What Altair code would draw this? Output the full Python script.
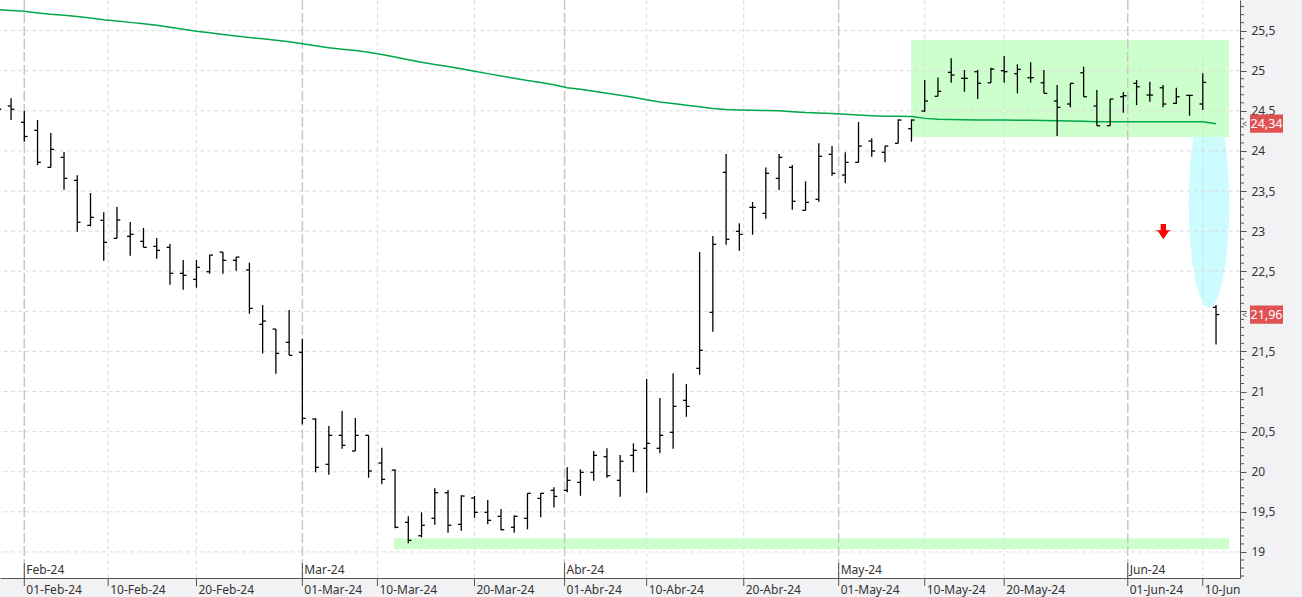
import altair as alt
import pandas as pd

# ---------------- data ----------------
first_day = "2024-01-30"
last_day = "2024-06-11"
holidays = ["2024-03-29", "2024-04-01", "2024-05-01"]

opens = [24.60, 24.56, 24.357, 24.257, 23.795, 23.92, 23.633, 23.072, 23.135, 22.91,
         22.935, 22.873, 22.81, 22.798, 22.474, 22.399, 22.494, 22.739, 22.636, 22.515,
         21.838, 21.779, 21.613, 21.489, 20.657, 20.092, 20.454, 20.258, 20.454, 20.108,
         20.02, 19.369, 19.202, 19.419, 19.738, 19.344, 19.672, 19.494, 19.444, 19.307,
         19.419, 19.668, 19.768, 19.768, 19.868, 19.993, 20.187, 19.893, 20.204, 20.292,
         20.292, 20.491, 20.89, 21.289, 21.987, 23.733, 22.998, 23.297, 23.222, 23.658,
         23.795, 23.259, 23.397, 23.958, 23.70, 23.858, 24.123, 23.983, 24.095, 24.277,
         24.498, 24.681, 24.98, 24.905, 24.988, 24.85, 25.0, 24.963, 24.913, 24.85,
         24.622, 24.585, 24.975, 24.56, 24.314, 24.676, 24.843, 24.697, 24.788, 24.593,
         24.693, 24.585, 22.05]
highs = [24.70, 24.656, 24.497, 24.385, 24.223, 23.986, 23.696, 23.475, 23.234, 23.30,
         23.113, 23.039, 22.914, 22.84, 22.64, 22.64, 22.702, 22.739, 22.677, 22.606,
         22.079, 21.779, 22.016, 21.655, 20.666, 20.57, 20.757, 20.669, 20.454, 20.299,
         20.03, 19.444, 19.494, 19.793, 19.772, 19.706, 19.697, 19.647, 19.536, 19.456,
         19.731, 19.731, 19.806, 20.055, 20.03, 20.258, 20.292, 20.208, 20.354, 21.156,
         20.919, 21.227, 21.094, 22.739, 22.939, 23.961, 23.097, 23.363, 23.795, 23.961,
         23.824, 23.621, 24.095, 24.061, 23.983, 24.36, 24.157, 24.061, 24.394, 24.394,
         24.884, 24.917, 25.155, 25.009, 25.009, 25.037, 25.183, 25.08, 25.105, 25.009,
         24.822, 24.843, 25.05, 24.759, 24.647, 24.734, 24.884, 24.863, 24.822, 24.788,
         24.693, 24.968, 22.08]
lows = [24.42, 24.385, 24.115, 23.824, 23.795, 23.516, 22.993, 23.06, 22.631, 22.91,
        22.693, 22.798, 22.656, 22.33, 22.27, 22.295, 22.469, 22.469, 22.506, 21.97,
        21.476, 21.222, 21.451, 20.591, 19.993, 19.963, 20.287, 20.258, 19.925, 19.843,
        19.294, 19.107, 19.182, 19.339, 19.239, 19.264, 19.426, 19.344, 19.27, 19.239,
        19.282, 19.431, 19.555, 19.745, 19.70, 19.888, 19.925, 19.688, 19.993, 19.738,
        20.229, 20.287, 20.686, 21.209, 21.746, 22.83, 22.756, 22.955, 23.155, 23.512,
        23.267, 23.259, 23.367, 23.691, 23.596, 23.858, 23.928, 23.858, 24.095, 24.115,
        24.489, 24.681, 24.85, 24.738, 24.647, 24.85, 24.85, 24.718, 24.85, 24.718,
        24.186, 24.544, 24.676, 24.314, 24.314, 24.476, 24.572, 24.613, 24.544, 24.585,
        24.439, 24.51, 21.588]
closes = [24.52, 24.52, 24.18, 23.858, 24.02, 23.658, 23.11, 23.172, 22.86, 23.138,
          22.96, 22.798, 22.76, 22.474, 22.449, 22.549, 22.702, 22.636, 22.677, 22.037,
          21.879, 21.476, 21.451, 20.666, 20.055, 20.454, 20.329, 20.454, 20.009, 19.905,
          19.307, 19.144, 19.332, 19.738, 19.332, 19.697, 19.494, 19.394, 19.277, 19.444,
          19.731, 19.731, 19.692, 19.893, 19.993, 20.204, 19.95, 20.13, 20.267, 20.354,
          20.454, 20.815, 20.815, 21.514, 22.835, 22.898, 22.96, 23.297, 23.721, 23.92,
          23.372, 23.359, 23.933, 23.721, 23.858, 24.061, 23.999, 24.061, 24.385, 24.385,
          24.622, 24.743, 24.946, 24.905, 24.843, 25.021, 24.988, 25.017, 24.913, 24.718,
          24.544, 24.843, 24.676, 24.314, 24.647, 24.688, 24.8, 24.697, 24.585, 24.676,
          24.693, 24.855, 21.96]
ma200 = [25.763, 25.751, 25.741, 25.721, 25.703, 25.691, 25.677, 25.657, 25.636, 25.620,
         25.603, 25.586, 25.566, 25.542, 25.517, 25.493, 25.473, 25.453, 25.434, 25.415,
         25.398, 25.379, 25.360, 25.337, 25.313, 25.288, 25.268, 25.251, 25.231, 25.202,
         25.171, 25.137, 25.106, 25.077, 25.054, 25.024, 24.993, 24.964, 24.934, 24.906,
         24.878, 24.854, 24.824, 24.789, 24.769, 24.743, 24.719, 24.695, 24.668, 24.637,
         24.610, 24.591, 24.571, 24.550, 24.530, 24.516, 24.511, 24.507, 24.505, 24.502,
         24.490, 24.480, 24.474, 24.468, 24.458, 24.449, 24.440, 24.433, 24.431, 24.430,
         24.406, 24.394, 24.393, 24.390, 24.387, 24.385, 24.385, 24.384, 24.382, 24.380,
         24.375, 24.373, 24.369, 24.365, 24.364, 24.364, 24.364, 24.364, 24.364, 24.364,
         24.364, 24.363, 24.34]

day_tick_dates = ["2024-02-01", "2024-02-10", "2024-02-20", "2024-03-01", "2024-03-10",
                  "2024-03-20", "2024-04-01", "2024-04-10", "2024-04-20", "2024-05-01",
                  "2024-05-10", "2024-05-20", "2024-06-01", "2024-06-10"]
day_tick_labels = ["01-Feb-24", "10-Feb-24", "20-Feb-24", "01-Mar-24", "10-Mar-24",
                   "20-Mar-24", "01-Abr-24", "10-Abr-24", "20-Abr-24", "01-May-24",
                   "10-May-24", "20-May-24", "01-Jun-24", "10-Jun"]
month_dates = ["2024-02-01", "2024-03-01", "2024-04-01", "2024-05-01", "2024-06-01"]
month_labels = ["Feb-24", "Mar-24", "Abr-24", "May-24", "Jun-24"]

price_grid = [19.0, 19.5, 20.0, 20.5, 21.0, 21.5, 22.0, 22.5, 23.0, 23.5, 24.0, 24.5, 25.0, 25.5]
minor_ticks = [round(18.7 + 0.1 * n, 1) for n in range(72)]

tag_prices = [24.34, 21.96]
tag_labels = ["24,34", "21,96"]

# annotation zones (start / end in trading-day index units, prices)
zone_x0 = [68.97, 29.92]
zone_x1 = [92.98, 92.98]
zone_hi = [25.383, 19.17]
zone_lo = [24.175, 19.036]
ellipse_k = [91.47]
ellipse_p = [23.344]
arrow_k = [88.02]
arrow_p = [22.993]

# ---------------- helpers ----------------
days = pd.bdate_range(first_day, last_day)
days = days[~days.isin(pd.to_datetime(holidays))]


def pos(d):
    d = pd.Timestamp(d)
    if d in days:
        return float(days.get_loc(d))
    n = int(days.searchsorted(d))
    p = n - 1
    return p + (d - days[p]).days / (days[n] - days[p]).days


bars = pd.DataFrame({"k": list(range(len(days))), "o": opens, "h": highs,
                     "l": lows, "c": closes, "ma": ma200})
day_df = pd.DataFrame({"k": [pos(d) for d in day_tick_dates], "label": day_tick_labels})
grid_day_df = day_df[~day_df["label"].str.startswith("01")]
month_df = pd.DataFrame({"k": [pos(d) for d in month_dates], "label": month_labels})
hgrid_df = pd.DataFrame({"p": price_grid})
minor_df = pd.DataFrame({"p": [v for v in minor_ticks if abs(v * 2 - round(v * 2)) > 1e-6]})
tag_df = pd.DataFrame({"p": tag_prices, "label": tag_labels})
zone_df = pd.DataFrame({"x0": zone_x0, "x1": zone_x1, "hi": zone_hi, "lo": zone_lo})
ell_df = pd.DataFrame({"k": ellipse_k, "p": ellipse_p})
arr_df = pd.DataFrame({"k": arrow_k, "p": arrow_p})

FONT = "Noto Sans"
xs = alt.Scale(domain=[0.165, 93.81], nice=False, zero=False)
ys = alt.Scale(domain=[18.675, 25.882], nice=False, zero=False)

x_axis = alt.Axis(labels=False, ticks=False, grid=False, domainColor="#555555", title=None)
y_axis = alt.Axis(orient="right", values=price_grid, tickSize=6, tickColor="#555555",
                  domainColor="#555555", labelColor="#333333", labelFont=FONT,
                  labelFontSize=12, labelPadding=5, grid=False, title=None,
                  labelExpr="datum.value % 1 == 0 ? format(datum.value, 'd') : replace(format(datum.value, '.1f'), '.', ',')")


def X(f):
    return alt.X(f, type="quantitative", scale=xs, axis=x_axis)


def Y(f):
    return alt.Y(f, type="quantitative", scale=ys, axis=y_axis)


hgrid = alt.Chart(hgrid_df).mark_rule(strokeDash=[4, 3], color="#dcdcdc", strokeWidth=1).encode(
    y=Y("p"))

month_grid = alt.Chart(month_df).mark_rule(color="#c8c8c8", strokeWidth=1.5, strokeDash=[10, 3]).encode(
    x=X("k"))

ellipse_path = ("M0,-1 C0.1075,-1 0.1946,-0.5523 0.1946,0 C0.1946,0.5523 0.1075,1 0,1 "
                "C-0.1075,1 -0.1946,0.5523 -0.1946,0 C-0.1946,-0.5523 -0.1075,-1 0,-1 Z")
ellipse = alt.Chart(ell_df).mark_point(shape=ellipse_path, size=43099, filled=True,
                                       color="#ccfcff", opacity=1, strokeWidth=0).encode(
    x=X("k"), y=Y("p"))

zones = alt.Chart(zone_df).mark_rect(color="#ccffcc", opacity=1).encode(
    x=X("x0"), x2="x1", y=Y("hi"), y2="lo")

day_grid = alt.Chart(grid_day_df).mark_rule(strokeDash=[4, 3], color="#dcdcdc", strokeWidth=1).encode(
    x=X("k"))

ma_line = alt.Chart(bars).mark_line(color="#00a847", strokeWidth=1.5, clip=True).encode(
    x=X("k"), y=Y("ma"))

hl = alt.Chart(bars).mark_rule(color="#000000", strokeWidth=1.3, clip=True).encode(
    x=X("k"), y=Y("l"), y2="h")
open_tick = alt.Chart(bars).transform_calculate(k0="datum.k - 0.25").mark_rule(
    color="#000000", strokeWidth=1.3, clip=True).encode(x=X("k0"), x2="k", y=Y("o"))
close_tick = alt.Chart(bars).transform_calculate(k1="datum.k + 0.25").mark_rule(
    color="#000000", strokeWidth=1.3, clip=True).encode(x=X("k"), x2="k1", y=Y("c"))

arrow_path = ("M-0.35,-1 L0.35,-1 L0.35,-0.2 L0.95,-0.2 L0.95,-0.05 L0.7,-0.05 L0,1 "
              "L-0.7,-0.05 L-0.95,-0.05 L-0.95,-0.2 L-0.35,-0.2 Z")
arrow = alt.Chart(arr_df).mark_point(shape=arrow_path, size=234, filled=True, color="#ff0000",
                                     opacity=1, strokeWidth=0).encode(x=X("k"), y=Y("p"))

month_ticks = alt.Chart(month_df).mark_rule(color="#555555", strokeWidth=1).encode(
    x=X("k"), y=alt.value(563), y2=alt.value(578))
month_text = alt.Chart(month_df).mark_text(align="left", baseline="middle", dx=2, font=FONT,
                                           fontSize=12, color="#333333").encode(
    x=X("k"), y=alt.value(570), text="label:N")

day_ticks = alt.Chart(day_df).mark_rule(color="#555555", strokeWidth=1).encode(
    x=X("k"), y=alt.value(578), y2=alt.value(586))
day_text = alt.Chart(day_df).mark_text(align="left", baseline="middle", dx=2, font=FONT,
                                       fontSize=12, color="#333333").encode(
    x=X("k"), y=alt.value(589.5), text="label:N")

minor = alt.Chart(minor_df).mark_rule(color="#555555", strokeWidth=1).encode(
    x=alt.value(1240), x2=alt.value(1244), y=Y("p"))

tag_rect = alt.Chart(tag_df).transform_calculate(
    top="datum.p + 0.114", bot="datum.p - 0.114").mark_rect(color="#e05252").encode(
    x=alt.value(1250), x2=alt.value(1283), y=Y("top"), y2="bot")
tag_text = alt.Chart(tag_df).mark_text(align="center", baseline="middle", font=FONT,
                                       fontSize=12.5, color="#ffffff").encode(
    x=alt.value(1266.5), y=Y("p"), text="label:N")
tag_arrow = alt.Chart(tag_df).mark_text(align="center", baseline="middle", font=FONT,
                                        fontSize=9, color="#555555").encode(
    x=alt.value(1244.5), y=Y("p"), text=alt.value("<"))

chart = alt.layer(
    ellipse, zones, hgrid, month_grid, day_grid, ma_line, hl, open_tick, close_tick,
    arrow, month_ticks, month_text, day_ticks, day_text, minor, tag_rect, tag_text, tag_arrow,
).properties(
    width=1240, height=578,
    padding={"left": 0, "top": 0, "right": 62, "bottom": 19},
    autosize=alt.AutoSizeParams(type="none"),
    background="#f2f2f4",
).configure_view(fill="#ffffff", strokeWidth=0)

chart.save("out.html", embed_options={"renderer": "svg", "actions": False})
